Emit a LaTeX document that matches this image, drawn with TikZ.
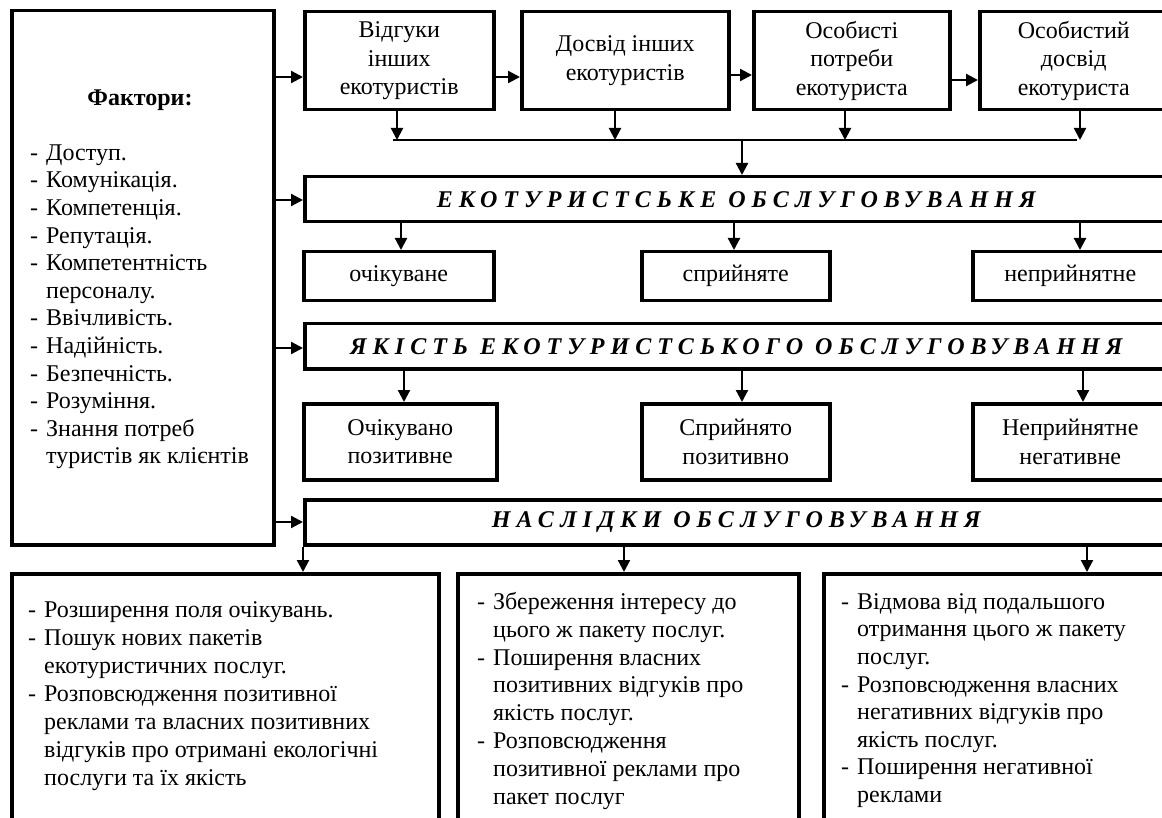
\documentclass[tikz,border=0pt]{standalone}
\usepackage{fontspec}
\setmainfont{Liberation Serif}
\newfontfamily\hdfont[LetterSpace=25]{Liberation Serif}
\usetikzlibrary{arrows.meta}
\newcommand{\itm}[1]{\makebox[16pt][l]{-}#1}
\newcommand{\cnt}[1]{\hspace*{16pt}#1}
\newcommand{\topstrut}{\rule{0pt}{20pt}}
\begin{document}
\begin{tikzpicture}[x=1pt,y=-1pt,
  box/.style={draw, line width=3.5pt, inner sep=0pt, anchor=north west},
  arr/.style={line width=2.2pt, -{Triangle[width=12pt,length=12pt]}},
  thinline/.style={line width=1.3pt},
  txt/.style={font=\fontsize{24}{28.5}\selectfont, align=center},
  hd/.style={font=\fontsize{24}{28}\selectfont\hdfont\bfseries\itshape},
  lst/.style={font=\fontsize{24}{27.6}\selectfont, align=left, anchor=north west, inner sep=0pt},
]
\useasboundingbox (0,0) rectangle (1162,818);
\clip (0,0) rectangle (1162,818);

% factors box
\node[box, minimum width=262, minimum height=534] (fac) at (10,9) {};
\node[font=\fontsize{24}{28}\selectfont\bfseries, inner sep=0pt] (factitle) at (140,100) {Фактори:};
\node[lst] (faclist) at (30,140) {\topstrut\itm{Доступ.}\\ \itm{Комунікація.}\\ \itm{Компетенція.}\\ \itm{Репутація.}\\ \itm{Компетентність}\\ \cnt{персоналу.}\\ \itm{Ввічливість.}\\ \itm{Надійність.}\\ \itm{Безпечність.}\\ \itm{Розуміння.}\\ \itm{Знання потреб}\\ \cnt{туристів як клієнтів}};

% top row
\node[box, txt, minimum width=189, minimum height=98] (b1) at (303,10) {Відгуки\\інших\\екотуристів};
\node[box, txt, minimum width=207, minimum height=98] (b2) at (520,10) {Досвід інших\\екотуристів};
\node[box, txt, minimum width=196, minimum height=98] (b3) at (752,10) {Особисті\\потреби\\екотуриста};
\node[box, txt, minimum width=188, minimum height=98] (b4) at (978,10) {Особистий\\досвід\\екотуриста};

% headings
\node[box, hd, minimum width=863, minimum height=45] (eko) at (303,175) {ЕКОТУРИСТСЬКЕ ОБСЛУГОВУВАННЯ};
\node[box, hd, minimum width=863, minimum height=45] (yak) at (303,322) {ЯКІСТЬ ЕКОТУРИСТСЬКОГО ОБСЛУГОВУВАННЯ};
\node[box, hd, minimum width=863, minimum height=45] (nas) at (303,498) {НАСЛІДКИ ОБСЛУГОВУВАННЯ};

% small boxes
\node[box, txt, minimum width=190, minimum height=49] (sm1) at (302,250) {очікуване};
\node[box, txt, minimum width=188, minimum height=49] (sm2) at (640,250) {сприйняте};
\node[box, txt, minimum width=195, minimum height=49] (sm3) at (971,250) {неприйнятне};

% middle boxes
\node[box, txt, minimum width=193, minimum height=76] (md1) at (302,402) {Очікувано\\позитивне};
\node[box, txt, minimum width=188, minimum height=76] (md2) at (640,402) {Сприйнято\\позитивно};
\node[box, txt, minimum width=195, minimum height=76] (md3) at (971,402) {Неприйнятне\\негативне};

% bottom boxes
\node[box, minimum width=427, minimum height=300] (bt1) at (10,572) {};
\node[box, minimum width=341, minimum height=300] (bt2) at (456,572) {};
\node[box, minimum width=344, minimum height=300] (bt3) at (822,572) {};

\node[lst, font=\fontsize{24}{28}\selectfont] (t1) at (28,597) {\topstrut\itm{Розширення поля очікувань.}\\ \itm{Пошук нових пакетів}\\ \cnt{екотуристичних послуг.}\\ \itm{Розповсюдження позитивної}\\ \cnt{реклами та власних позитивних}\\ \cnt{відгуків про отримані екологічні}\\ \cnt{послуги та їх якість}};
\node[lst, font=\fontsize{24}{27.9}\selectfont] (t2) at (477,589) {\topstrut\itm{Збереження інтересу до}\\ \cnt{цього ж пакету послуг.}\\ \itm{Поширення власних}\\ \cnt{позитивних відгуків про}\\ \cnt{якість послуг.}\\ \itm{Розповсюдження}\\ \cnt{позитивної реклами про}\\ \cnt{пакет послуг}};
\node[lst, font=\fontsize{24}{27.6}\selectfont] (t3) at (841,589) {\topstrut\itm{Відмова від подальшого}\\ \cnt{отримання цього ж пакету}\\ \cnt{послуг.}\\ \itm{Розповсюдження власних}\\ \cnt{негативних відгуків про}\\ \cnt{якість послуг.}\\ \itm{Поширення негативної}\\ \cnt{реклами}};

% connectors from factors
\draw[arr] (fac.east |- 0,77) -- (b1.west |- 0,77);
\draw[arr] (fac.east |- 0,200) -- (eko.west |- 0,200);
\draw[arr] (fac.east |- 0,348) -- (yak.west |- 0,348);
\draw[arr] (fac.east |- 0,522) -- (nas.west |- 0,522);

% top row chain
\draw[arr] (b1.east |- 0,77) -- (b2.west |- 0,77);
\draw[arr] (b2.east |- 0,75) -- (b3.west |- 0,75);
\draw[arr] (b3.east |- 0,80) -- (b4.west |- 0,80);

% collector line
\coordinate (hL) at (393,140);
\coordinate (hR) at (1077,140);
\draw[thinline] (hL) -- (hR);
\draw[arr] (397,0 |- b1.south) -- (397,0 |- hL);
\draw[arr] (615,0 |- b2.south) -- (615,0 |- hL);
\draw[arr] (845,0 |- b3.south) -- (845,0 |- hL);
\draw[arr] (1080,0 |- b4.south) -- (1080,0 |- hL);
\draw[arr] (742,0 |- hL) -- (742,0 |- eko.north);

% eko -> small
\draw[arr] (401,0 |- eko.south) -- (401,0 |- sm1.north);
\draw[arr] (734,0 |- eko.south) -- (734,0 |- sm2.north);
\draw[arr] (1080,0 |- eko.south) -- (1080,0 |- sm3.north);

% yak -> middle
\draw[arr] (404,0 |- yak.south) -- (404,0 |- md1.north);
\draw[arr] (742,0 |- yak.south) -- (742,0 |- md2.north);
\draw[arr] (1083,0 |- yak.south) -- (1083,0 |- md3.north);

% nas -> bottom
\draw[arr] (nas.south west) -- (nas.south west |- bt1.north);
\draw[arr] (624,0 |- nas.south) -- (624,0 |- bt2.north);
\draw[arr] (1087,0 |- nas.south) -- (1087,0 |- bt3.north);
\end{tikzpicture}
\end{document}
